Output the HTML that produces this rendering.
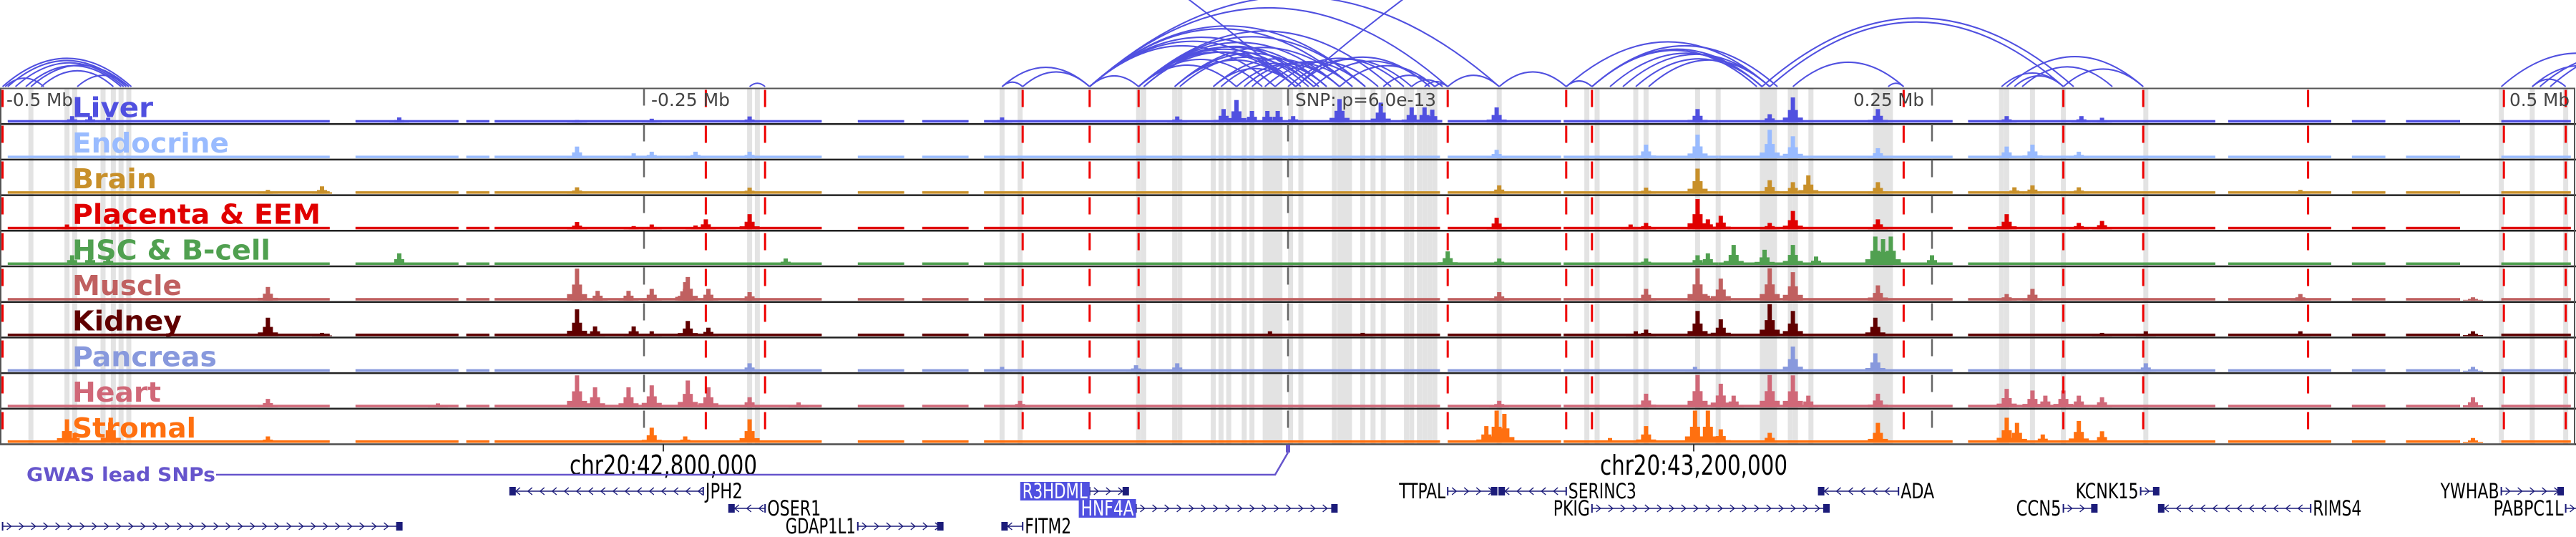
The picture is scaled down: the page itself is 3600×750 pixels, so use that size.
<!DOCTYPE html>
<html><head><meta charset="utf-8"><style>
html,body{margin:0;padding:0;background:#fff;}
svg{display:block;}
text{font-family:"DejaVu Sans Condensed","DejaVu Sans","Liberation Sans",sans-serif;}
</style></head><body>
<svg id="chart" width="3600" height="750" viewBox="0 0 3600 750" xmlns="http://www.w3.org/2000/svg">
<g id="bands"></g>
<g id="arcs"></g>
<g id="tracks"></g>
<g id="vlines"></g>
<g id="labels"></g>
<g id="axis"></g>
<g id="genes"></g>
</svg>
<script>
// ---------- data (positions in kb relative to lead SNP) ----------
const trackNames = ["Liver","Endocrine","Brain","Placenta & EEM","HSC & B-cell","Muscle","Kidney","Pancreas","Heart","Stromal"];
const trackColors = ["#5050e0","#99bbff","#c8902a","#e00000","#50a050","#c06060","#600000","#8899dd","#d06878","#ff7010"];
const trackLabelWidths = [113,219,118,347,277,153,153,202,124,173];
const peaksLiver = [[-472,.2],[-465,.2],[-458,.15],[-345,.16],[-276,.08],[-247,.12],[-209,.19],[-111,.16],[-43,.19],[-25,.42],[-20,.7],[-14,.36],[-8,.36],[-4,.36],[2,.2],[20,.73],[36,.62],[48,.47],[53,.47],[56,.4],[81,.47],[159,.42],[187,.26],[196,.78],[229,.42],[279,.2],[308,.2],[316,.15]];
const peaksEndocrine = [[-276,.36],[-254,.15],[-247,.2],[-230,.2],[-209,.2],[81,.26],[139,.42],[159,.73],[187,.88],[196,.68],[229,.31],[279,.36],[289,.42],[307,.2]];
const peaksBrain = [[-396,.12],[-375,.23],[-276,.2],[-209,.19],[82,.26],[139,.19],[159,.78],[187,.42],[196,.36],[202,.57],[229,.36],[282,.2],[289,.26],[307,.2],[393,.12]];
const peaksPlacenta = [[-474,.15],[-453,.15],[-276,.23],[-254,.1],[-247,.15],[-230,.12],[-226,.31],[-209,.47],[81,.36],[133,.15],[139,.2],[159,.94],[163,.31],[168,.42],[187,.2],[196,.57],[229,.31],[279,.47],[307,.2],[316,.26]];
const peaksHSC = [[-472,.3],[-465,.3],[-458,.25],[-345,.36],[-195,.2],[62,.42],[82,.2],[139,.2],[159,.3],[163,.36],[173,.62],[185,.47],[196,.62],[205,.26],[228,.88],[231,.8],[234,.88],[250,.3]];
const peaksMuscle = [[-396,.42],[-276,.99],[-268,.3],[-256,.3],[-247,.36],[-234,.57],[-233,.73],[-225,.36],[-209,.26],[82,.26],[139,.36],[159,1],[163,.15],[168,.68],[187,1],[196,.88],[229,.47],[279,.2],[289,.36],[393,.2],[460,.1]];
const peaksKidney = [[-396,.57],[-375,.1],[-276,.83],[-269,.3],[-254,.3],[-247,.15],[-233,.47],[-225,.26],[-7,.15],[29,.1],[135,.15],[139,.2],[159,.78],[168,.52],[187,.99],[196,.78],[228,.57],[316,.1],[333,.15],[393,.15],[460,.15]];
const peaksPancreas = [[-209,.26],[-111,.15],[-59,.2],[-43,.26],[158,.15],[196,.78],[228,.57],[333,.26],[460,.15]];
const peaksHeart = [[-396,.26],[-330,.12],[-276,.99],[-269,.62],[-256,.62],[-247,.68],[-233,.83],[-225,.62],[-209,.31],[-190,.15],[-104,.2],[82,.2],[139,.42],[159,1],[168,.73],[173,.36],[187,1],[196,.99],[202,.36],[229,.42],[279,.57],[289,.52],[294,.36],[301,.52],[307,.36],[316,.31],[460,.31]];
const peaksStromal = [[-474,.73],[-471,.3],[-457,.78],[-396,.2],[-247,.47],[-234,.2],[-209,.73],[77,.52],[81,1],[84,.9],[125,.15],[139,.52],[158,1],[163,1],[168,.42],[187,.31],[229,.62],[279,.78],[283,.62],[293,.26],[307,.68],[316,.36],[460,.15]];
const trackPeaks = [peaksLiver,peaksEndocrine,peaksBrain,peaksPlacenta,peaksHSC,peaksMuscle,peaksKidney,peaksPancreas,peaksHeart,peaksStromal];
const coverage = [[-497,-372],[-362,-322],[-319,-310],[-308,-181],[-167,-149],[-142,-124],[-118,59],[62,106],[107,167],[167,258],[264,360],[365,405],[413,426],[434,455],[471,498]];
const redLines = [-499,-226,-203,-103,-77,-58,62,108,118,239,301,332,396,472,496];
const axisLines = [-250,0,250];
const bandCenters = [-488,-474,-471,-460,-456,-453,-450,-209,-206,-111,-104,-58,-56,-44,-42,-29,-26,-23,-17,-14,1,5,18,29,33,37,46,48,51,53,55,57,82,116,120,135,139,159,167,195,197,203,277,279,289,301,333,471,483,496];
const wideBands = [[-9,-3],[20,24],[184,189],[228,234]];
const arcs = [[-499,-449],[-497,-451],[-494,-452],[-490,-453],[-498,-483],[-484,-456],[-488,-450],[-470,-450],[-209,-203],
 [-111,-103],[-111,-77],[-103,-77],[-77,-58],[-77,62],[-77,82],[-58,3],[-58,8],[-58,12],[-58,20],[-58,-20],[-58,-10],[-56,5],[-56,15],
 [-77,-5],[-77,3],[-77,10],[-77,25],[-77,30],[-58,30],[-58,40],[-44,3],[-44,15],[-44,25],[-42,10],[-29,3],[-29,20],[-26,15],[-20,20],
 [-17,25],[-14,30],[-9,35],[-5,45],[0,48],[3,55],[10,55],[20,57],[37,57],[48,60],[53,62],[57,62],[62,82],[82,108],[108,118],
 [118,182],[118,184],[108,187],[118,190],[125,184],[130,187],[135,184],[140,187],[187,301],[184,305],[196,239],[233,239],
 [277,301],[279,332],[282,301],[285,320],[301,332],[471,530],[483,520],[483,496],[486,540],[490,560],[-556,3],[3,556]];
// genes: [start, end, strand, row, label, labelSide, highlighted, labelWidth]
const genes = [
 [-302,-227,-1,0,"JPH2","right",false,52],[-77,-62,1,0,"R3HDML","left",true,91],[62,81,1,0,"TTPAL","left",false,65],
 [82,108,-1,0,"SERINC3","right",false,95],[206,237,-1,0,"ADA","right",false,47],[331,338,1,0,"KCNK15","left",false,88],
 [471,495,1,0,"YWHAB","left",false,82],
 [-217,-203,-1,1,"OSER1","right",false,75],[-59,19,1,1,"HNF4A","left",true,74],[118,210,1,1,"PKIG","left",false,51],
 [301,314,1,1,"CCN5","left",false,63],[338,397,-1,1,"RIMS4","right",false,68],[496,503,1,1,"PABPC1L","left",false,98],
 [-499,-344,1,2,"","right",false,0],[-167,-134,1,2,"GDAP1L1","left",false,98],[-111,-103,-1,2,"FITM2","right",false,65]];
const snpPositions = [0];
const tickLabels = ["chr20:42,800,000","chr20:43,200,000"];
const tickPositions = [-242.5,157.5];
const scaleLabels = ["-0.5 Mb","-0.25 Mb","0.25 Mb","0.5 Mb"];

// ---------- scales ----------
const X = kb => (kb + 500) * 3.6;
const TOP = 123.5, TH = 49.7, NT = 10, BOTTOM = TOP + TH*NT;
const NS = "http://www.w3.org/2000/svg";
function el(tag, attrs, parent){const e=document.createElementNS(NS,tag);for(const k in attrs)e.setAttribute(k,attrs[k]);parent.appendChild(e);return e;}
const gBands=document.getElementById('bands'),gArcs=document.getElementById('arcs'),gTracks=document.getElementById('tracks'),
 gV=document.getElementById('vlines'),gL=document.getElementById('labels'),gA=document.getElementById('axis'),gG=document.getElementById('genes');

// bands
bandCenters.forEach(c=>{const r=el('rect',{x:X(c)-3.5,y:TOP,width:7,height:BOTTOM-TOP,fill:'#e3e3e3'},gBands);

});
wideBands.forEach(b=>{const r=el('rect',{x:X(b[0])-3,y:TOP,width:X(b[1])-X(b[0])+6,height:BOTTOM-TOP,fill:'#e3e3e3'},gBands);

});

// arcs
const ARC_BASE = 121;
arcs.forEach(a=>{const x1=X(a[0]),x2=X(a[1]);const w=Math.abs(x2-x1);const h=0.22*w;
const p=el('path',{d:`M${x1},${ARC_BASE} Q${(x1+x2)/2},${ARC_BASE-2*h} ${x2},${ARC_BASE}`,fill:'none',stroke:'#5050e0','stroke-width':2},gArcs);

});

// tracks
trackNames.forEach((name,i)=>{
 const top=TOP+i*TH, base=top+TH-2, col=trackColors[i], maxH=45;
 const g=el('g',{},gTracks);
 
 
 coverage.forEach(s=>{const r=el('rect',{x:X(s[0]),y:base-3.5,width:X(s[1])-X(s[0]),height:3.5,fill:col},g);
 
 });
 trackPeaks[i].forEach(p=>{const h=p[1]*maxH,cx=X(p[0]);
  const b=el('rect',{x:cx-14,y:base-h*0.2,width:28,height:h*0.2,fill:col},g);
  
  
  const s=el('rect',{x:cx-7,y:base-h*0.5,width:14,height:h*0.5,fill:col},g);
  
  
  const r=el('rect',{x:cx-3,y:base-h,width:6,height:h,fill:col},g);
  
  });
 const ln=el('line',{x1:0,x2:3600,y1:top+TH,y2:top+TH,stroke:'#222','stroke-width':2.5},g);
 
 
 const t=el('text',{x:101,y:top+40,fill:col,'font-size':38,'font-weight':'bold',textLength:trackLabelWidths[i],lengthAdjust:'spacingAndGlyphs'},gL);
 t.textContent=name;
 
 
});
// frame
const fr=el('rect',{x:1,y:TOP,width:3597,height:BOTTOM-TOP,fill:'none',stroke:'#555','stroke-width':2},gV);



// vertical lines
axisLines.forEach(k=>{const l=el('line',{x1:X(k),x2:X(k),y1:TOP,y2:BOTTOM,stroke:'#666','stroke-width':2.5,'stroke-dasharray':'24,26'},gV);

});
redLines.forEach(k=>{const l=el('line',{x1:X(k),x2:X(k),y1:TOP+2,y2:BOTTOM,stroke:'#ee0000','stroke-width':3,'stroke-dasharray':'24,26'},gV);

});

// scale labels
const scalePos=[[9,'start',93],[910,'start',110],[2689,'end',99],[3591,'end',84]];
scaleLabels.forEach((s,i)=>{const p=scalePos[i];const t=el('text',{x:p[0],y:148,'font-size':25,fill:'#444','text-anchor':p[1],textLength:p[2],lengthAdjust:'spacingAndGlyphs'},gA);
t.textContent=s;

});
const snpT=el('text',{x:X(snpPositions[0])+10,y:148,'font-size':25,fill:'#444',textLength:197,lengthAdjust:'spacingAndGlyphs'},gA);
snpT.textContent='SNP: p=6.0e-13';



// coordinate ticks
tickLabels.forEach((s,i)=>{const x=X(tickPositions[i]);
 const l=el('line',{x1:x,x2:x,y1:BOTTOM,y2:BOTTOM+10,stroke:'#000','stroke-width':1.5},gA);
 
 
 const t=el('text',{x:x,y:663,'font-size':38,fill:'#000','text-anchor':'middle',textLength:262,lengthAdjust:'spacingAndGlyphs'},gA);
 t.textContent=s;
 
 });

// GWAS lead SNPs
const gw=el('text',{x:37,y:672,'font-size':27,'font-weight':'bold',fill:'#6655cc',textLength:264,lengthAdjust:'spacingAndGlyphs'},gA);
gw.textContent='GWAS lead SNPs';


snpPositions.forEach(k=>{const x=X(k);
 const pl=el('polyline',{points:`302,663 ${x-18},663 ${x},632`,fill:'none',stroke:'#6655cc','stroke-width':2.5},gA);
 
 
 const m=el('rect',{x:x-3,y:621,width:6,height:11,fill:'#6655cc'},gA);
 
 });

// genes
const rowY=[686,710,735];
genes.forEach(gn=>{
 const x1=X(gn[0]),x2=X(gn[1]),y=rowY[gn[3]],dir=gn[2];
 const g=el('g',{},gG);
 
 
 el('line',{x1:x1,x2:x2,y1:y,y2:y,stroke:'#1c1c7a','stroke-width':1.5},g);
 el('line',{x1:x1,x2:x1,y1:y-6,y2:y+6,stroke:'#1c1c7a','stroke-width':2},g);
 el('line',{x1:x2,x2:x2,y1:y-6,y2:y+6,stroke:'#1c1c7a','stroke-width':2},g);
 let d='';
 for(let x=x1+10;x<x2-4;x+=17){ d+= dir>0?`M${x-4},${y-5} L${x+2},${y} L${x-4},${y+5} `:`M${x+4},${y-5} L${x-2},${y} L${x+4},${y+5} `; }
 el('path',{d:d,fill:'none',stroke:'#1c1c7a','stroke-width':1.4},g);
 const ex = dir>0 ? x2-8 : x1;
 if(x2-x1>20) el('rect',{x:ex,y:y-6,width:8,height:12,fill:'#1c1c7a'},g);
 if(gn[4]){
  const w=gn[7], left=gn[5]==='left';
  const tx=left? x1-3-w : x2+3;
  if(gn[6]) el('rect',{x:tx-3,y:y-13,width:w+6,height:26,fill:'#5050e0'},g);
  const t=el('text',{x:tx,y:y+10,'font-size':29,fill:gn[6]?'#fff':'#000',textLength:w,lengthAdjust:'spacingAndGlyphs'},g);
  t.textContent=gn[4];
  
  
 }
});
</script>
</body></html>
